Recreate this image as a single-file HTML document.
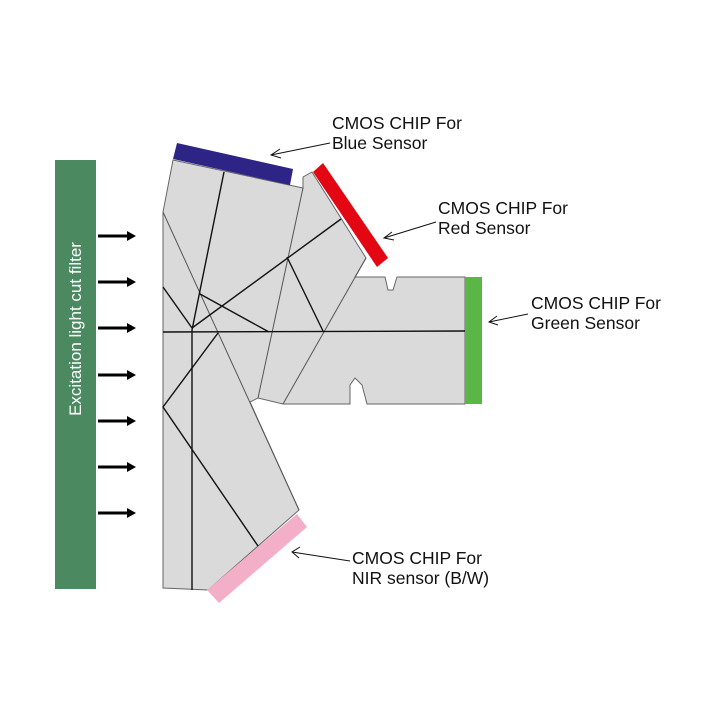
<!DOCTYPE html>
<html><head><meta charset="utf-8"><style>html,body{margin:0;padding:0;background:#fff}</style></head>
<body>
<svg width="720" height="720" viewBox="0 0 720 720" xmlns="http://www.w3.org/2000/svg" font-family="Liberation Sans, sans-serif">
<rect x="55" y="160" width="41" height="429" fill="#4b8a61"/>
<text transform="translate(81,329) rotate(-90)" text-anchor="middle" font-size="17" fill="#fff">Excitation light cut filter</text>
<g stroke="#000" stroke-width="3">
<line x1="98" y1="236" x2="128" y2="236"/><line x1="98" y1="282" x2="128" y2="282"/><line x1="98" y1="328" x2="128" y2="328"/><line x1="98" y1="375" x2="128" y2="375"/><line x1="98" y1="421" x2="128" y2="421"/><line x1="98" y1="467" x2="128" y2="467"/><line x1="98" y1="513" x2="128" y2="513"/>
</g>
<g fill="#000">
<path d="M127,231 L136,236 L127,241Z"/><path d="M127,277 L136,282 L127,287Z"/><path d="M127,323 L136,328 L127,333Z"/><path d="M127,370 L136,375 L127,380Z"/><path d="M127,416 L136,421 L127,426Z"/><path d="M127,462 L136,467 L127,472Z"/><path d="M127,508 L136,513 L127,518Z"/>
</g>
<path d="M173,160 L303,188 L303,177 L312,172 L366,258 L355,277 L385,277 L388,290 L393,290 L397,277 L465,277 L465,404 L367,404 L362,385 L355,378 L350,385 L350,404 L283,404 L258,398 L250,402 L299,510 L208,590 L163,588 L163,226 L163,212 Z" fill="#d9dad9" stroke="#666" stroke-width="1"/>
<g stroke="#555" stroke-width="1" fill="none">
<line x1="163" y1="212" x2="299" y2="510"/>
<line x1="303" y1="188" x2="258" y2="398"/>
<line x1="366" y1="258" x2="283" y2="404"/>
</g>
<g stroke="#111" stroke-width="1.4" fill="none">
<polyline points="224,172 192,330 192,590"/>
<line x1="163" y1="332" x2="465" y2="331"/>
<line x1="163" y1="287" x2="192" y2="328"/>
<line x1="192" y1="328" x2="341" y2="219"/>
<line x1="287" y1="257" x2="323" y2="331"/>
<line x1="200" y1="294" x2="269" y2="332"/>
<polyline points="218,333 163,407 258,546"/>
</g>
<path d="M177,143 L293,169 L290,185 L173,159Z" fill="#2e2485"/>
<path d="M313,172 L323,163 L388,258 L377,267Z" fill="#e30613"/>
<rect x="465" y="277" width="17" height="127" fill="#5bb648"/>
<path d="M207,590 L297,514 L307,527 L219,603Z" fill="#f4afc8"/>
<g font-size="17.5" fill="#111">
<text x="332" y="129">CMOS CHIP For</text><text x="332" y="149">Blue Sensor</text>
<text x="438" y="214">CMOS CHIP For</text><text x="438" y="234">Red Sensor</text>
<text x="531" y="309">CMOS CHIP For</text><text x="531" y="329">Green Sensor</text>
<text x="352" y="564">CMOS CHIP For</text><text x="352" y="584">NIR sensor (B/W)</text>
</g>
<g stroke="#111" stroke-width="1" fill="none">
<line x1="330" y1="143" x2="271" y2="155"/><polyline points="280,149 271,155 281,158"/>
<line x1="436" y1="222" x2="384" y2="238"/><polyline points="392,232 384,238 394,240"/>
<line x1="528" y1="314" x2="489" y2="322"/><polyline points="497,316 489,322 498,325"/>
<line x1="350" y1="561" x2="292" y2="552"/><polyline points="300,547 292,552 299,558"/>
</g>
</svg>
</body></html>
